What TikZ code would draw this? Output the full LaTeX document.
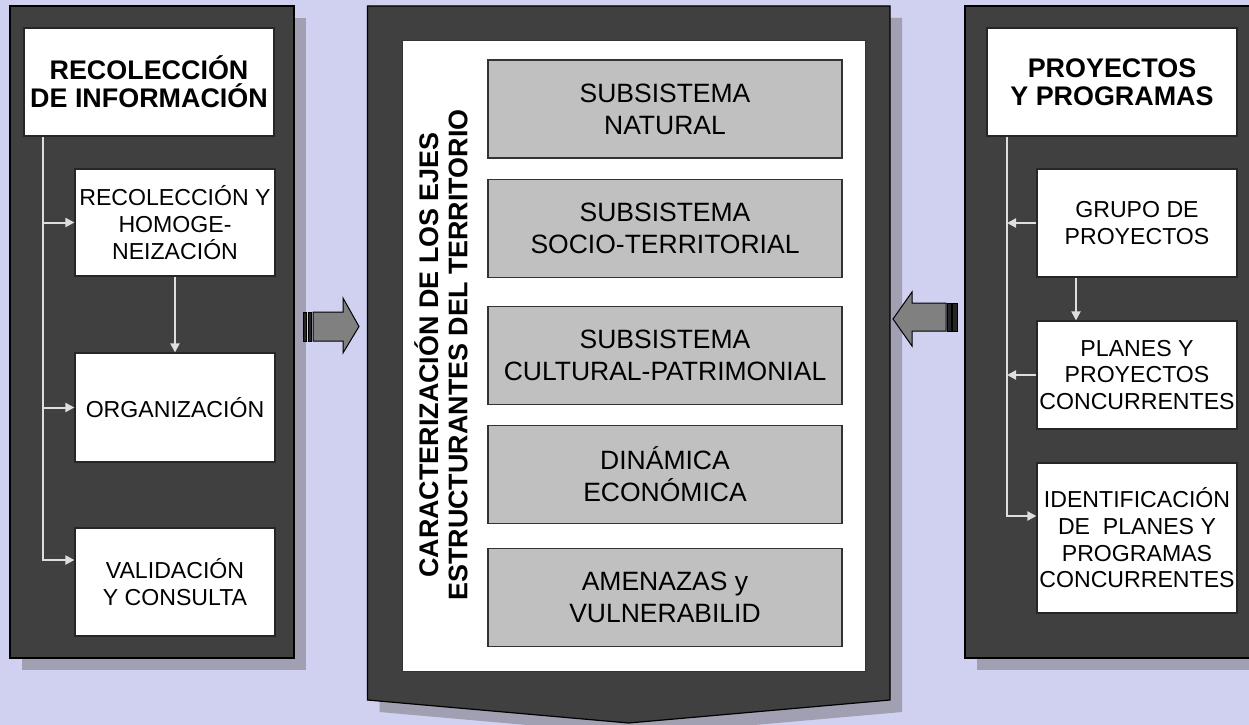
\documentclass[tikz,border=0pt]{standalone}
\usepackage{fontspec}
\setmainfont{Liberation Sans}
\usetikzlibrary{arrows.meta,calc}
\definecolor{bgcol}{RGB}{208,208,240}
\definecolor{panelcol}{RGB}{64,64,64}
\definecolor{shadcol}{RGB}{160,160,178}
\definecolor{boxgray}{RGB}{192,192,192}
\definecolor{conncol}{RGB}{222,222,222}
\definecolor{barrowcol}{RGB}{128,128,128}
\begin{document}
\begin{tikzpicture}[x=1bp,y=-1bp,
  panelshape/.style={fill=panelcol,draw=black,line width=1.2bp},
  titlebox/.style={draw=black!85,fill=white,line width=1.2bp,minimum width=250bp,minimum height=108bp,inner sep=0pt,align=center,font=\bfseries\fontsize{27}{28.5}\selectfont},
  wbox/.style={draw=black!85,fill=white,line width=1.2bp,minimum width=200bp,inner sep=0pt,align=center,font=\fontsize{23.2}{26.8}\selectfont},
  gbox/.style={draw=black!80,fill=boxgray,line width=1.2bp,minimum width=354bp,minimum height=98bp,inner sep=0pt,align=center,font=\fontsize{26.6}{32}\selectfont},
  link/.style={draw=conncol,line width=2bp},
  arr/.style={link,-{Triangle[length=9bp,width=9bp]}},
  blockarrow/.style={fill=barrowcol,draw=black,line width=1bp,line join=miter},
  stripe/.style={fill=black!85,draw=black,line width=0.6bp}
]
\useasboundingbox (0,0) rectangle (1249,725);
\clip (0,0) rectangle (1249,725);
\fill[bgcol] (0,0) rectangle (1249,725);

% shadows
\fill[shadcol] (22,18) rectangle (306,670);
\fill[shadcol] (379.5,18) -- (902,18) -- (902,712) -- (640.75,735) -- (379.5,712) -- cycle;
\fill[shadcol] (977,18) rectangle (1265,670);

% panels
\draw[panelshape] (10,6) rectangle (294,658);
\draw[panelshape] (367.5,6) -- (890,6) -- (890,700) -- (628.75,723) -- (367.5,700) -- cycle;
\draw[panelshape] (965,6) rectangle (1262,658);

% center inner white
\draw[fill=white,draw=black!80,line width=1bp] (402,41) rectangle (865,671);

% left panel nodes
\node[titlebox] (lt) at (149,82) {RECOLECCIÓN\\DE INFORMACIÓN};
\node[wbox,minimum height=107bp] (lb1) at (175,222.5) {RECOLECCIÓN Y\\HOMOGE-\\NEIZACIÓN};
\node[wbox,minimum height=109bp] (lo) at (175,407.5) {ORGANIZACIÓN};
\node[wbox,minimum height=108bp] (lv) at (175,582) {VALIDACIÓN\\Y CONSULTA};

% center nodes
\node[rotate=90,align=center,font=\bfseries\fontsize{27}{29.5}\selectfont] (vt) at (441,355) {CARACTERIZACIÓN DE LOS EJES\\ESTRUCTURANTES DEL TERRITORIO};
\node[gbox] (g1) at (665,109) {SUBSISTEMA\\NATURAL};
\node[gbox] (g2) at (665,228.5) {SUBSISTEMA\\SOCIO-TERRITORIAL};
\node[gbox] (g3) at (665,355.5) {SUBSISTEMA\\CULTURAL-PATRIMONIAL};
\node[gbox] (g4) at (665,474.5) {DINÁMICA\\ECONÓMICA};
\node[gbox] (g5) at (665,597.5) {AMENAZAS y\\VULNERABILID};

% right panel nodes
\node[titlebox] (rt) at (1112,82) {PROYECTOS\\Y PROGRAMAS};
\node[wbox,minimum height=108bp] (rg) at (1137,223) {GRUPO DE\\PROYECTOS};
\node[wbox,minimum height=108bp] (rp) at (1137,375) {PLANES Y\\PROYECTOS\\CONCURRENTES};
\node[wbox,minimum height=150bp] (ri) at (1137,538) {IDENTIFICACIÓN\\DE\ \ PLANES Y\\PROGRAMAS\\CONCURRENTES};

% left connectors
\coordinate (ls) at (43,560);
\draw[arr] (lt.south -| ls) -- (ls) -- (lv.west |- ls);
\draw[arr] (ls |- lb1.west) -- (lb1.west);
\draw[arr] (ls |- lo.west) -- (lo.west);
\draw[arr] (lb1.south) -- (lo.north);

% right connectors
\coordinate (rs) at (1007,516);
\coordinate (rd) at (1076,300);
\draw[arr] (rt.south -| rs) -- (rs) -- (ri.west |- rs);
\draw[arr] (rg.west) -- (rs |- rg.west);
\draw[arr] (rp.west) -- (rs |- rp.west);
\draw[arr] (rg.south -| rd) -- (rp.north -| rd);

% block arrows
\draw[blockarrow] (313,312) -- (343,312) -- (343,298) -- (359,326.5) -- (343,353) -- (343,341) -- (313,341) -- cycle;
\draw[stripe] (303,312) rectangle (306.5,341);
\draw[stripe] (308,312) rectangle (311.5,341);
\draw[blockarrow] (946,303) -- (912,303) -- (912,292) -- (893,319) -- (912,346) -- (912,331) -- (946,331) -- cycle;
\draw[stripe] (947.5,303) rectangle (951,331);
\draw[stripe] (952.5,303) rectangle (957.5,331);
\end{tikzpicture}
\end{document}
